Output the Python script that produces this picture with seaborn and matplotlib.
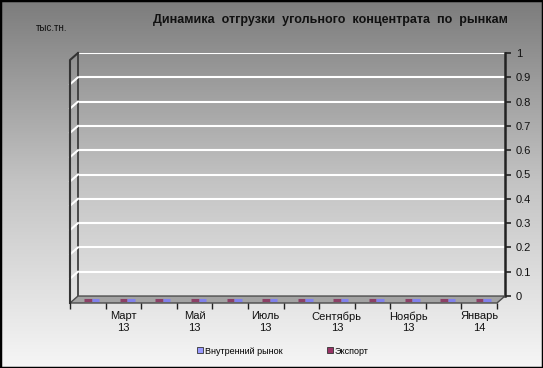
import numpy as np
import pandas as pd
import seaborn as sns
import matplotlib.pyplot as plt
from matplotlib import transforms
from matplotlib.colors import LinearSegmentedColormap
from matplotlib.lines import Line2D
from matplotlib.patches import Polygon, Rectangle, Patch

# --- данные ---
months = ['Февраль\n13', 'Март\n13', 'Апрель\n13', 'Май\n13', 'Июнь\n13', 'Июль\n13',
          'Август\n13', 'Сентябрь\n13', 'Октябрь\n13', 'Ноябрь\n13', 'Декабрь\n13', 'Январь\n14']
domestic = [0, 0, 0, 0, 0, 0, 0, 0, 0, 0, 0, 0]
export = [0, 0, 0, 0, 0, 0, 0, 0, 0, 0, 0, 0]
series_names = ['Внутренний рынок', 'Экспорт']
series_colors = {'Внутренний рынок': '#6f6fff', 'Экспорт': '#993366'}
legend_colors = {'Внутренний рынок': '#9999ff', 'Экспорт': '#993366'}
y_ticks = [0, 0.1, 0.2, 0.3, 0.4, 0.5, 0.6, 0.7, 0.8, 0.9, 1]
title = 'Динамика  отгрузки  угольного  концентрата  по  рынкам'
units = 'тыс.тн.'

df = pd.DataFrame({
    'Месяц': months * 2,
    'Рынок': ['Внутренний рынок'] * len(months) + ['Экспорт'] * len(months),
    'Отгрузка': domestic + export,
})

plt.rcParams['font.family'] = ['Liberation Sans', 'DejaVu Sans']

W, H = 543, 368


def fx(px):
    return px / W


def fy(py):
    return 1 - py / H


fig = plt.figure(figsize=(5.43, 3.68), dpi=100)

# градиентный фон
bg = fig.add_axes([0, 0, 1, 1], zorder=-10)
grad = np.linspace(0, 1, 256).reshape(-1, 1)
cmap = LinearSegmentedColormap.from_list('bg', ['#7c7c7c', '#c4c4c4', '#f6f6f6'])
bg.imshow(grad, aspect='auto', cmap=cmap, extent=[0, 1, 0, 1], origin='upper')
bg.axis('off')

# задняя стенка с сеткой и осью Y справа
wall = fig.add_axes([fx(78), fy(296), fx(505) - fx(78), fy(53) - fy(296)], zorder=0)
wall.patch.set_alpha(0)
wall.set_xlim(0, 1)
wall.set_ylim(0, 1)
wall.set_xticks([])
wall.set_yticks(y_ticks)
wall.set_yticklabels([f'{v:g}' for v in y_ticks])
wall.yaxis.tick_right()
wall.grid(axis='y', color='white', lw=1.5)
wall.tick_params(axis='y', direction='out', length=4, width=1.2, color='#222222',
                 labelsize=8, pad=4, labelcolor='#111111')
for s in ['top', 'bottom']:
    wall.spines[s].set_visible(False)
wall.spines['left'].set_color('#333333')
wall.spines['left'].set_linewidth(1.2)
wall.spines['right'].set_color('#222222')
wall.spines['right'].set_linewidth(1.8)

# пол
floor = Polygon([(fx(70), fy(303)), (fx(497), fy(303)), (fx(505), fy(296)), (fx(78), fy(296))],
                closed=True, transform=fig.transFigure, facecolor='#a3a3a3',
                edgecolor='#4a4a4a', lw=1, zorder=1)
fig.add_artist(floor)

# боковая стенка
fig.add_artist(Line2D([fx(70), fx(70), fx(78)], [fy(303), fy(60), fy(53)],
                      transform=fig.transFigure, color='#333333', lw=1.5, zorder=1))
for v in y_ticks[1:-1]:
    ypx = 296 - v * 243
    fig.add_artist(Line2D([fx(78), fx(70)], [fy(ypx), fy(ypx + 7)],
                          transform=fig.transFigure, color='white', lw=1.5, zorder=0.5))

# столбцы
ax = fig.add_axes([fx(70), fy(303), fx(497) - fx(70), fy(60) - fy(303)], zorder=2)
ax.patch.set_alpha(0)
sns.barplot(data=df, x='Месяц', y='Отгрузка', hue='Рынок', order=months,
            hue_order=['Экспорт', 'Внутренний рынок'], palette=series_colors,
            width=0.42, ax=ax, legend=False)
ax.set_ylim(0, 1)
ax.set_xlim(-0.5, len(months) - 0.5)
depth = transforms.offset_copy(ax.transData, fig=fig, x=4, y=3.5, units='dots')
for p in ax.patches:
    p.set_edgecolor(p.get_facecolor())
    p.set_linewidth(2.2)
    p.set_clip_on(False)
    p.set_transform(depth)

ax.set_xticks(range(len(months)))
ax.set_xticklabels([m if i % 2 == 1 else '' for i, m in enumerate(months)])
ax.set_xticks(np.arange(-0.5, len(months), 1), minor=True)
ax.tick_params(axis='x', which='major', length=0, pad=6, labelsize=8, labelcolor='#111111')
ax.tick_params(axis='x', which='minor', length=4, width=1, color='#222222')
ax.set_yticks([])
ax.set_xlabel('')
ax.set_ylabel('')
for s in ax.spines.values():
    s.set_visible(False)

# подписи
fig.text(fx(330), fy(20), title, ha='center', va='center', fontsize=9,
         fontweight='bold', color='#111111')
fig.text(fx(36), fy(28), units, ha='left', va='center', fontsize=7, color='#111111')

handles = [Patch(facecolor=legend_colors[n], edgecolor='#333333', lw=0.6) for n in series_names]
fig.legend(handles, series_names, loc='center', bbox_to_anchor=(fx(283), fy(351)), ncol=2,
           frameon=False, fontsize=6.5, handlelength=0.6, handleheight=0.6,
           handletextpad=0.2, columnspacing=5)

fig.add_artist(Rectangle((0, 0), 1, 1, transform=fig.transFigure, fill=False,
                         edgecolor='black', lw=2.5, zorder=10))

fig.savefig('out.png', dpi=100)
